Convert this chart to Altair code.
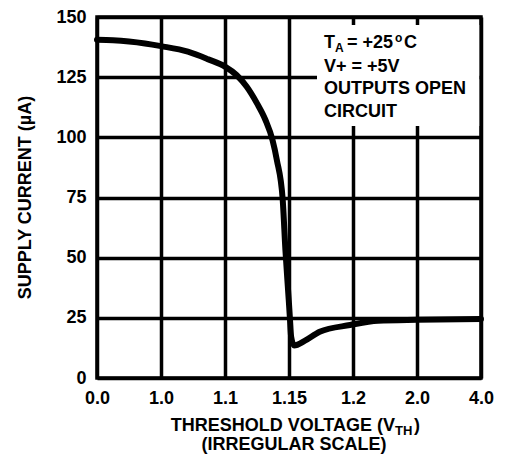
import altair as alt
import pandas as pd

# ---- data ----
voltage = [0.0, 0.25, 0.5, 0.75, 1.0, 1.042, 1.074, 1.1, 1.109, 1.117, 1.125,
           1.1316, 1.1371, 1.1405, 1.1451, 1.1472, 1.1498, 1.1507, 1.1517, 1.154,
           1.1625, 1.174, 1.1977, 1.512, 2.0, 4.0]
current = [140.5, 140.3, 139.8, 139.0, 137.9, 135.6, 132.4, 129.4, 125.9, 121.0, 114.1,
           107.2, 98.9, 90.6, 74.0, 53.2, 32.4, 25.0, 17.0, 13.5,
           15.5, 19.2, 22.0, 23.8, 24.2, 24.5]
x_ticks = [0.0, 1.0, 1.1, 1.15, 1.2, 2.0, 4.0]
x_tick_labels = ["0.0", "1.0", "1.1", "1.15", "1.2", "2.0", "4.0"]
y_ticks = [0, 25, 50, 75, 100, 125, 150]

W, H = 384, 361
FONT = "Liberation Sans"

df = pd.DataFrame({"V": voltage, "I": current})
one = pd.DataFrame({"k": [0]})

label_expr = " : ".join(
    [f"datum.value == {v} ? '{l}'" for v, l in zip(x_ticks, x_tick_labels)] + ["''"]
)

x_scale = alt.Scale(domain=x_ticks, range=[W * i / 6 for i in range(7)])
y_scale = alt.Scale(domain=[0, 150])

line = alt.Chart(df).mark_line(
    color="black", strokeWidth=6, interpolate="monotone", strokeCap="round", strokeJoin="round"
).encode(
    x=alt.X("V:Q", scale=x_scale, title=None,
            axis=alt.Axis(values=x_ticks, labelExpr=label_expr, labelFlush=False,
                          labelOverlap=False, labelPadding=11, labelBound=False)),
    y=alt.Y("I:Q", scale=y_scale, title=None,
            axis=alt.Axis(values=y_ticks, labelFlush=False, labelOverlap=False,
                          labelPadding=11)),
)

box = alt.Chart(one).mark_rect(color="white").encode(
    x=alt.value(220), x2=alt.value(W - 1.8), y=alt.value(8), y2=alt.value(109)
)


def txt(t, x, y, size=18, align="left", angle=0):
    return alt.Chart(one).mark_text(
        text=t, align=align, baseline="alphabetic", font=FONT, fontWeight="bold",
        fontSize=size, color="black", angle=angle
    ).encode(x=alt.value(x), y=alt.value(y))


texts = [
    txt("T", 227, 31),
    txt("A", 238, 35, size=12),
    txt("= +25", 250, 31),
    txt("o", 298, 25, size=12),
    txt("C", 307, 31),
    txt("V+ = +5V", 227, 55),
    txt("OUTPUTS OPEN", 227, 77),
    txt("CIRCUIT", 227, 100),
    txt("THRESHOLD VOLTAGE (V", 298, 414, align="right"),
    txt("TH", 298, 418, size=13),
    txt(")", 317, 414),
    txt("(IRREGULAR SCALE)", 197, 433, align="center"),
    txt("SUPPLY CURRENT (\u00b5A)", -66, H / 2, align="center", angle=270),
]

chart = alt.layer(line, box, *texts).properties(
    width=W, height=H,
    autosize=alt.AutoSizeParams(type="none"),
    padding={"left": 89, "top": 9, "right": 18, "bottom": 80},
    background="white",
).configure_view(
    stroke="black", strokeWidth=3.5
).configure_axis(
    labelFont=FONT, labelFontWeight="bold", labelFontSize=18, labelColor="black",
    ticks=False, domain=False, grid=True, gridColor="black", gridWidth=3.5, gridOpacity=1,
)

chart.save("out.html", embed_options={"renderer": "svg", "actions": False})
